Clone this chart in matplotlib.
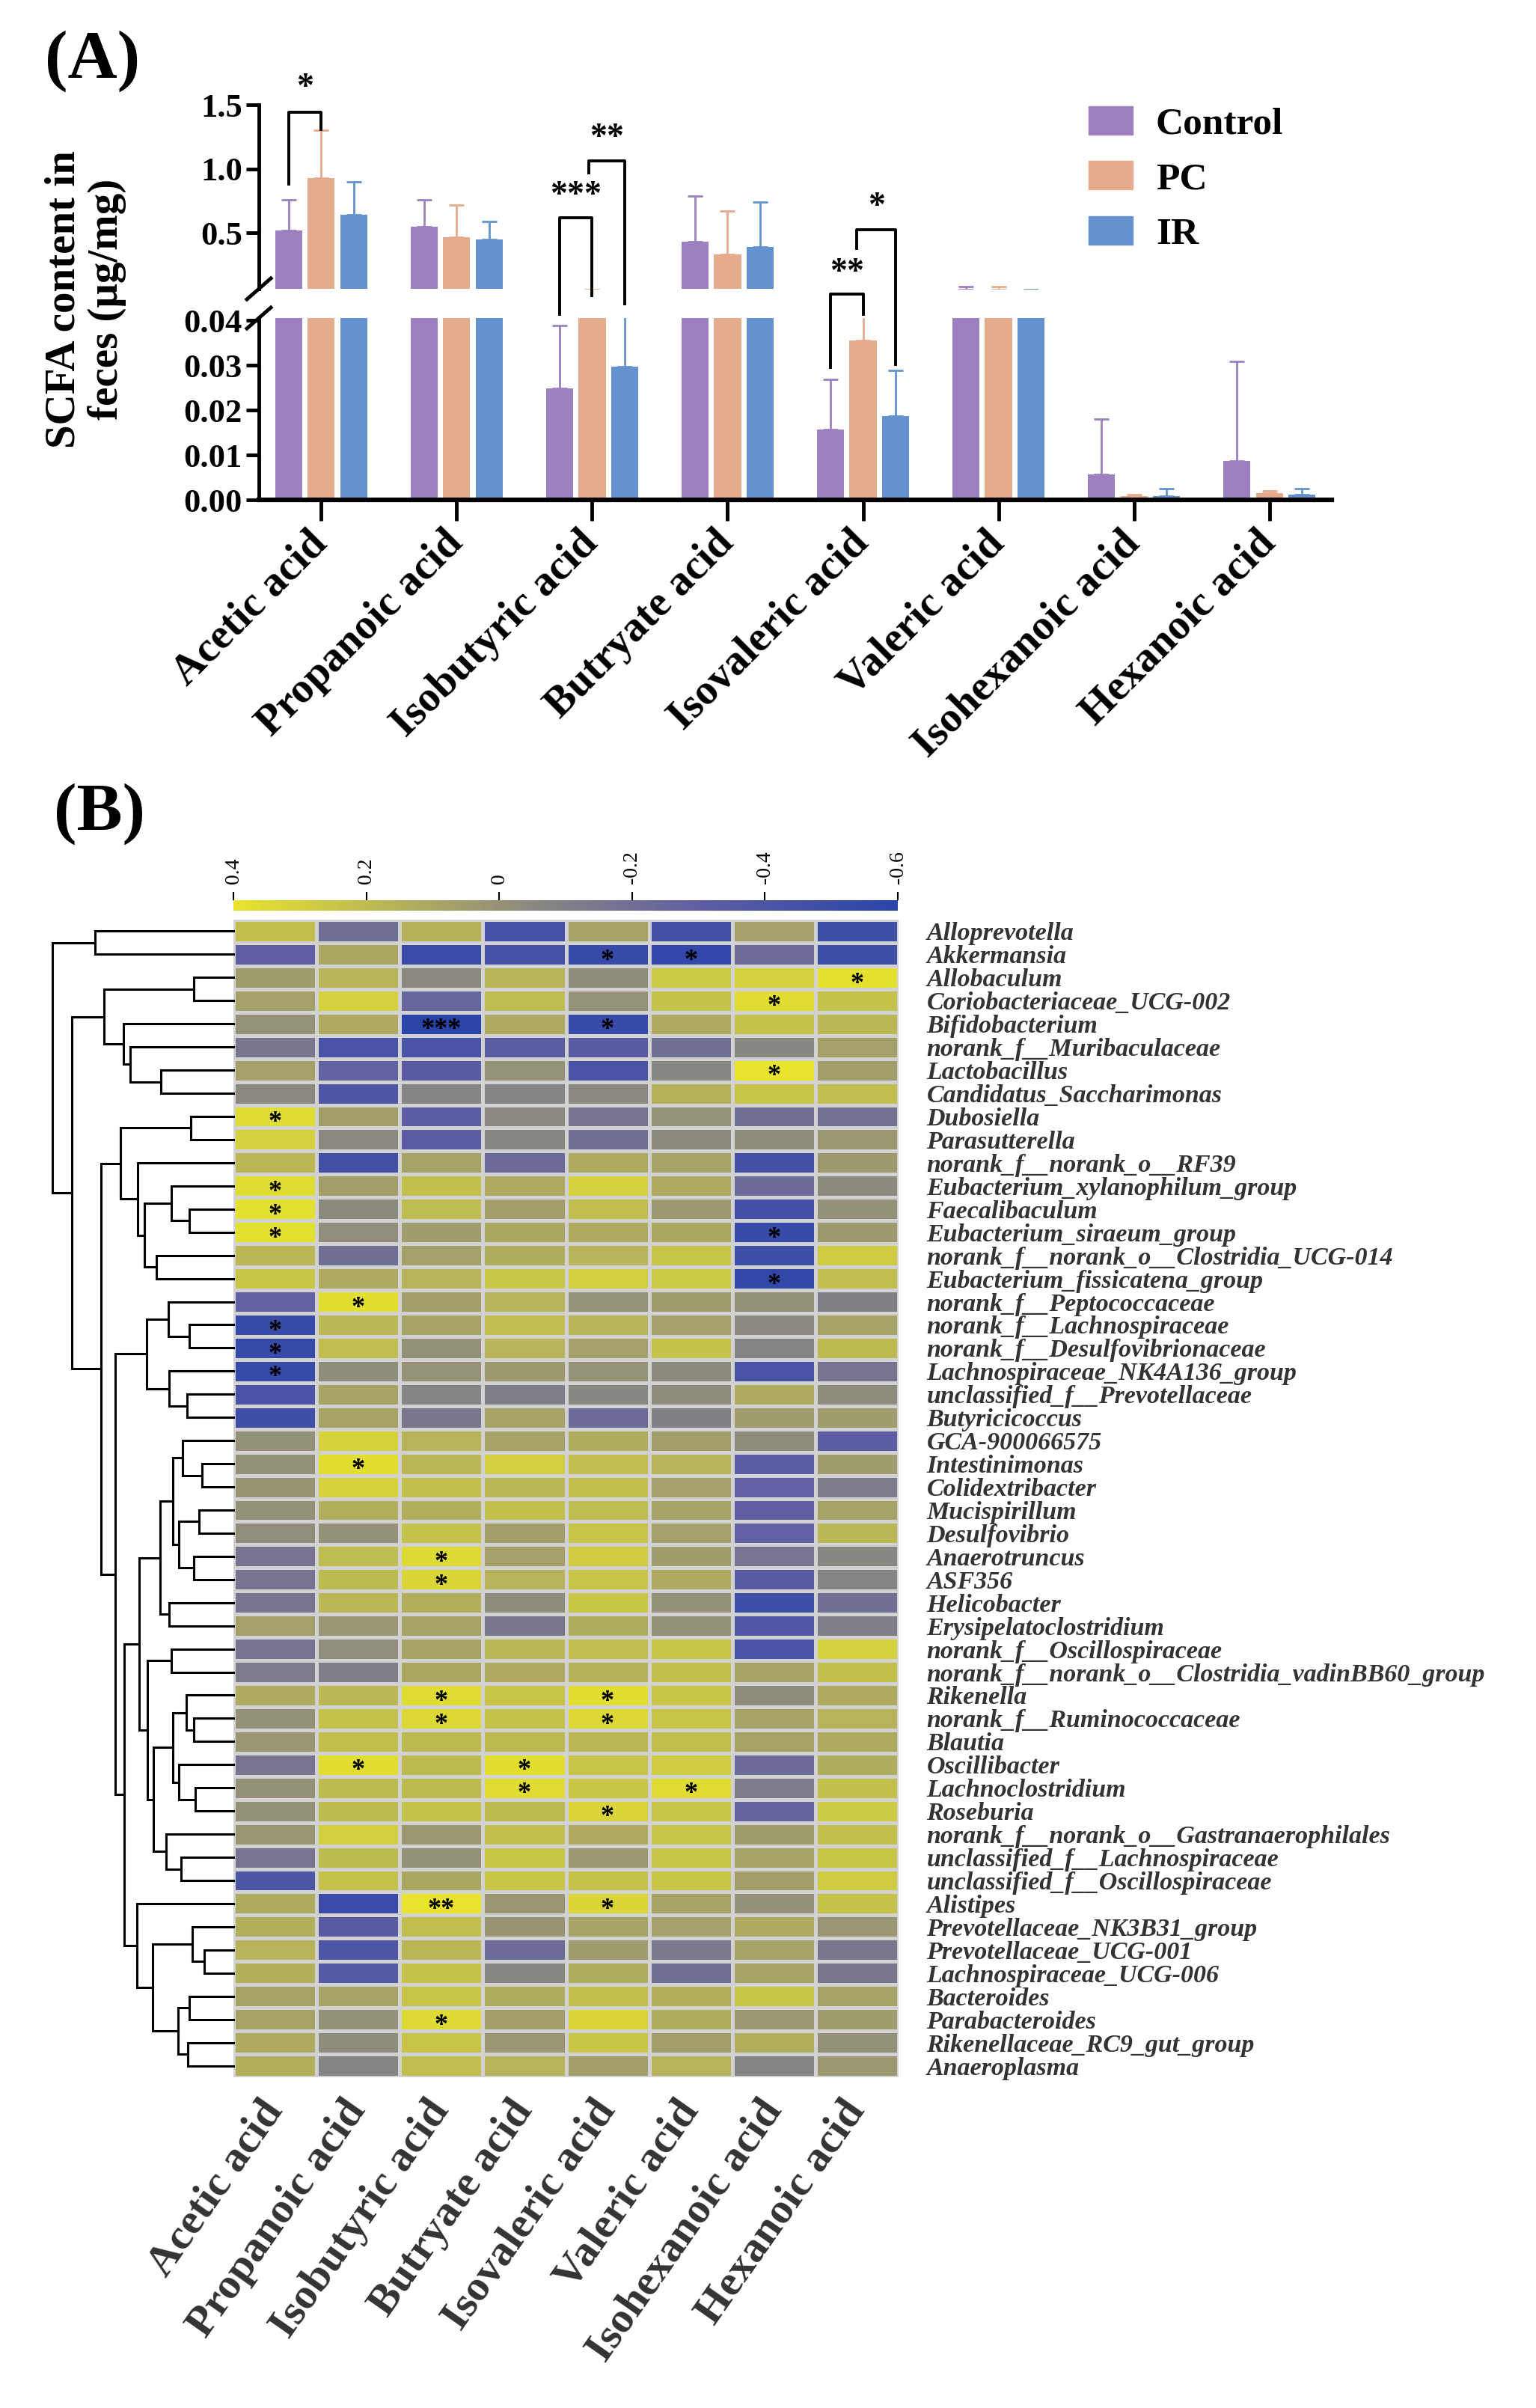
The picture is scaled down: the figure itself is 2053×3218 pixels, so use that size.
import numpy as np
import matplotlib
matplotlib.use('Agg')
import matplotlib as mpl
import matplotlib.pyplot as plt
from matplotlib.colors import LinearSegmentedColormap, Normalize
from matplotlib.patches import Patch
from matplotlib.lines import Line2D

plt.rcParams['font.family'] = ['Liberation Serif', 'DejaVu Serif']
plt.rcParams['font.weight'] = 'bold'

# ---------------- data: panel A ----------------
acids = ['Acetic acid', 'Propanoic acid', 'Isobutyric acid', 'Butryate acid',
         'Isovaleric acid', 'Valeric acid', 'Isohexanoic acid', 'Hexanoic acid']
groups = ['Control', 'PC', 'IR']
control = [0.52, 0.55, 0.0248, 0.435, 0.0156, 0.060, 0.0057, 0.0087]
control_err = [0.24, 0.21, 0.014, 0.355, 0.0113, 0.022, 0.0123, 0.0221]
pc = [0.93, 0.47, 0.050, 0.335, 0.0355, 0.060, 0.0008, 0.0015]
pc_err = [0.37, 0.25, 0.010, 0.335, 0.0070, 0.022, 0.0004, 0.0005]
ir = [0.64, 0.45, 0.0297, 0.39, 0.0187, 0.055, 0.0008, 0.0012]
ir_err = [0.26, 0.14, 0.012, 0.35, 0.0101, 0.005, 0.0017, 0.0013]

# ---------------- data: panel B ----------------
genera = ['Alloprevotella', 'Akkermansia', 'Allobaculum', 'Coriobacteriaceae_UCG-002',
          'Bifidobacterium', 'norank_f__Muribaculaceae', 'Lactobacillus',
          'Candidatus_Saccharimonas', 'Dubosiella', 'Parasutterella',
          'norank_f__norank_o__RF39', 'Eubacterium_xylanophilum_group', 'Faecalibaculum',
          'Eubacterium_siraeum_group', 'norank_f__norank_o__Clostridia_UCG-014',
          'Eubacterium_fissicatena_group', 'norank_f__Peptococcaceae',
          'norank_f__Lachnospiraceae', 'norank_f__Desulfovibrionaceae',
          'Lachnospiraceae_NK4A136_group', 'unclassified_f__Prevotellaceae',
          'Butyricicoccus', 'GCA-900066575', 'Intestinimonas', 'Colidextribacter',
          'Mucispirillum', 'Desulfovibrio', 'Anaerotruncus', 'ASF356', 'Helicobacter',
          'Erysipelatoclostridium', 'norank_f__Oscillospiraceae',
          'norank_f__norank_o__Clostridia_vadinBB60_group', 'Rikenella',
          'norank_f__Ruminococcaceae', 'Blautia', 'Oscillibacter', 'Lachnoclostridium',
          'Roseburia', 'norank_f__norank_o__Gastranaerophilales',
          'unclassified_f__Lachnospiraceae', 'unclassified_f__Oscillospiraceae',
          'Alistipes', 'Prevotellaceae_NK3B31_group', 'Prevotellaceae_UCG-001',
          'Lachnospiraceae_UCG-006', 'Bacteroides', 'Parabacteroides',
          'Rikenellaceae_RC9_gut_group', 'Anaeroplasma']

corr = [
    [0.22, -0.20, 0.15, -0.45, 0.08, -0.47, 0.07, -0.48],
    [-0.30, 0.10, -0.50, -0.45, -0.52, -0.56, -0.22, -0.48],
    [0.05, 0.17, -0.05, 0.17, -0.03, 0.27, 0.30, 0.38],
    [0.07, 0.30, -0.25, 0.20, 0.00, 0.23, 0.36, 0.23],
    [0.00, 0.12, -0.60, 0.12, -0.52, 0.12, 0.23, 0.18],
    [-0.15, -0.42, -0.42, -0.32, -0.34, -0.20, -0.06, 0.07],
    [0.07, -0.28, -0.33, 0.00, -0.42, -0.06, 0.40, 0.06],
    [-0.05, -0.40, -0.07, -0.07, -0.05, 0.15, 0.24, 0.21],
    [0.36, 0.06, -0.31, -0.05, -0.17, 0.00, -0.20, -0.18],
    [0.30, -0.05, -0.32, -0.06, -0.20, -0.04, -0.03, 0.03],
    [0.18, -0.47, 0.08, -0.23, 0.12, 0.09, -0.46, 0.04],
    [0.36, 0.06, 0.22, 0.12, 0.30, 0.12, -0.23, -0.04],
    [0.38, -0.04, 0.20, 0.06, 0.21, 0.03, -0.47, -0.01],
    [0.38, -0.02, 0.05, 0.10, 0.12, 0.10, -0.52, 0.04],
    [0.18, -0.20, 0.07, 0.13, 0.16, 0.24, -0.48, 0.28],
    [0.25, 0.12, 0.16, 0.26, 0.29, 0.27, -0.55, 0.21],
    [-0.28, 0.37, 0.06, 0.16, 0.00, 0.05, -0.01, -0.10],
    [-0.52, 0.18, 0.08, 0.21, 0.17, 0.07, -0.05, 0.08],
    [-0.53, 0.21, -0.01, 0.16, 0.07, 0.23, -0.08, 0.19],
    [-0.52, -0.03, 0.00, 0.04, 0.00, -0.04, -0.42, -0.17],
    [-0.42, 0.09, -0.07, -0.11, -0.06, -0.03, 0.12, -0.03],
    [-0.48, 0.09, -0.15, 0.09, -0.23, -0.10, 0.05, 0.05],
    [-0.01, 0.31, 0.16, 0.08, 0.13, 0.06, -0.03, -0.31],
    [-0.01, 0.37, 0.18, 0.29, 0.21, 0.16, -0.31, 0.05],
    [0.01, 0.31, 0.22, 0.18, 0.22, 0.07, -0.29, -0.12],
    [-0.01, 0.14, 0.14, 0.22, 0.20, 0.09, -0.30, 0.08],
    [-0.02, -0.01, 0.23, 0.06, 0.24, 0.07, -0.29, 0.18],
    [-0.17, 0.20, 0.35, 0.07, 0.28, 0.05, -0.16, -0.06],
    [-0.17, 0.19, 0.33, 0.16, 0.24, 0.12, -0.33, -0.07],
    [-0.17, 0.18, 0.14, -0.03, 0.25, -0.01, -0.48, -0.20],
    [0.07, 0.02, 0.08, -0.15, 0.13, -0.01, -0.38, -0.11],
    [-0.17, -0.02, 0.08, 0.18, 0.21, 0.24, -0.43, 0.30],
    [-0.13, -0.11, 0.10, 0.12, 0.15, 0.22, 0.08, 0.22],
    [0.12, 0.18, 0.36, 0.24, 0.37, 0.25, -0.03, 0.12],
    [-0.01, 0.23, 0.34, 0.23, 0.34, 0.24, 0.08, 0.16],
    [0.02, 0.22, 0.19, 0.19, 0.18, 0.22, 0.08, 0.12],
    [-0.16, 0.37, 0.19, 0.37, 0.24, 0.28, -0.23, 0.13],
    [-0.01, 0.19, 0.19, 0.36, 0.25, 0.36, -0.12, 0.22],
    [-0.01, 0.19, 0.23, 0.19, 0.32, 0.24, -0.27, 0.27],
    [0.02, 0.29, 0.03, 0.22, 0.12, 0.24, 0.05, 0.22],
    [-0.16, 0.19, -0.01, 0.25, 0.03, 0.24, 0.08, 0.25],
    [-0.40, 0.23, 0.10, 0.25, 0.23, 0.25, 0.06, 0.28],
    [0.12, -0.50, 0.40, 0.02, 0.33, 0.09, -0.01, 0.23],
    [0.14, -0.33, 0.21, 0.01, 0.08, 0.07, 0.12, 0.02],
    [0.16, -0.40, 0.18, -0.22, 0.05, -0.14, 0.08, -0.15],
    [0.14, -0.35, 0.23, -0.06, 0.13, -0.20, 0.08, -0.15],
    [0.09, 0.08, 0.24, 0.13, 0.22, 0.14, 0.25, 0.08],
    [0.08, -0.01, 0.35, 0.06, 0.32, 0.13, 0.03, 0.05],
    [0.12, -0.03, 0.24, 0.02, 0.25, 0.06, 0.14, -0.01],
    [0.14, -0.07, 0.21, 0.16, 0.06, 0.16, -0.07, 0.03],
]

# significance marks (row, column, label)
sig_rows = [1, 1, 2, 3, 4, 4, 6, 8, 11, 12, 13, 13, 15, 16, 17, 18, 19, 23, 27, 28,
            33, 33, 34, 34, 36, 36, 37, 37, 38, 42, 42, 47]
sig_cols = [4, 5, 7, 6, 2, 4, 6, 0, 0, 0, 0, 6, 6, 1, 0, 0, 0, 1, 2, 2,
            2, 4, 2, 4, 1, 3, 3, 5, 4, 2, 4, 2]
sig_marks = ['*', '*', '*', '*', '***', '*', '*', '*', '*', '*', '*', '*', '*', '*', '*', '*',
             '*', '*', '*', '*', '*', '*', '*', '*', '*', '*', '*', '*', '*', '**', '*', '*']

# row dendrogram: (left, right, height); leaves 0..49, merge k -> node 50+k
linkage = [
    (6, 7, 2.87), (5, 50, 4.07), (4, 51, 4.35), (2, 3, 1.57), (53, 52, 5.10),
    (0, 1, 5.47), (8, 9, 1.68), (12, 13, 1.75), (11, 57, 2.45), (14, 15, 3.05),
    (58, 59, 3.50), (10, 60, 3.77), (56, 61, 4.47), (17, 18, 1.75), (16, 63, 2.57),
    (20, 21, 1.83), (19, 65, 2.55), (64, 66, 3.43), (23, 24, 1.25), (22, 68, 2.00),
    (25, 26, 1.35), (27, 28, 1.55), (70, 71, 2.15), (69, 72, 2.40), (29, 30, 2.55),
    (73, 74, 2.90), (31, 32, 2.45), (34, 35, 1.55), (33, 77, 1.85), (37, 38, 1.50),
    (36, 79, 2.15), (78, 80, 2.40), (40, 41, 2.07), (39, 82, 2.65), (81, 83, 3.15),
    (76, 84, 3.40), (75, 85, 3.72), (44, 45, 1.15), (43, 87, 1.63), (46, 47, 1.75),
    (48, 49, 1.80), (89, 90, 2.17), (88, 91, 3.20), (42, 92, 3.80), (86, 93, 4.30),
    (67, 94, 4.67), (62, 95, 5.22), (54, 96, 6.37), (55, 97, 7.13),
]

# ---------------- figure ----------------
W, H = 2053, 3218
fig = plt.figure(figsize=(W / 100, H / 100), dpi=100)


def box(x0, y0, x1, y1):
    # pixel box (top-left origin) -> figure rect
    return [x0 / W, 1 - y1 / H, (x1 - x0) / W, (y1 - y0) / H]


colors = ['#9D80C0', '#E6AA8C', '#6392CF']
series = [control, pc, ir]
errs = [control_err, pc_err, ir_err]
offsets = [-0.24, 0.0, 0.24]
x = np.arange(len(acids))

ax_top = fig.add_axes(box(346, 140, 1780, 386))
ax_bot = fig.add_axes(box(346, 425, 1780, 668))

for ax in (ax_top, ax_bot):
    for vals, err, c, off, g in zip(series, errs, colors, offsets, groups):
        ax.bar(x + off, vals, width=0.2, color=c, label=g, zorder=2)
        ax.errorbar(x + off, vals, yerr=[np.zeros(len(vals)), err], fmt='none',
                    ecolor=c, elinewidth=2, capsize=7, capthick=2, zorder=1)
    ax.set_xlim(-0.46, 7.46)
    for s in ('top', 'right'):
        ax.spines[s].set_visible(False)
    ax.spines['left'].set_linewidth(3.5)
    ax.tick_params(axis='y', width=3.5, length=12, labelsize=32, pad=4)

ax_top.set_ylim(0.065, 1.5)
ax_top.set_yticks([0.5, 1.0, 1.5])
ax_top.set_yticklabels(['0.5', '1.0', '1.5'])
ax_top.spines['bottom'].set_visible(False)
ax_top.set_xticks([])

ax_bot.set_ylim(0, 0.0405)
ax_bot.set_yticks([0.0, 0.01, 0.02, 0.03, 0.04])
ax_bot.set_yticklabels(['0.00', '0.01', '0.02', '0.03', '0.04'])
ax_bot.spines['bottom'].set_linewidth(4.5)
ax_bot.set_xticks(x)
ax_bot.set_xticklabels(acids, rotation=45, ha='right', va='center',
                       rotation_mode='anchor', fontsize=41)
ax_bot.tick_params(axis='x', width=3.5, length=20, pad=16)

fig.text(0.029, 1 - 82 / H, '(A)', fontsize=66, ha='left', va='center')
fig.text(0.035, 1 - 1088 / H, '(B)', fontsize=66, ha='left', va='center')
fig.text(114 / W, 1 - 400 / H, 'SCFA content in\nfeces (\u03bcg/mg)', rotation=90,
         fontsize=41, ha='center', va='center', linespacing=1.12)

fig.legend(handles=[Patch(color=c) for c in colors], labels=groups,
           loc='upper left', bbox_to_anchor=(1455 / W, 1 - 142 / H), frameon=False,
           fontsize=37, handlelength=1.15, handleheight=0.75, handletextpad=0.6,
           labelspacing=0.5, borderpad=0, borderaxespad=0)

# axis break marks
to_fig = fig.transFigure.inverted()


def fpt(ax, xv, yv):
    return to_fig.transform(ax.transData.transform((xv, yv)))


for ax, yv in ((ax_top, 0.065), (ax_bot, 0.0405)):
    cx, cy = fpt(ax, -0.46, yv)
    fig.add_artist(Line2D([cx - 16 / W, cx + 16 / W], [cy - 14 / H, cy + 14 / H],
                          color='black', lw=3.5))


def bracket(pts, label, lx, ly, lax):
    xs, ys = [], []
    for xv, yv, which in pts:
        fx, fy = fpt(ax_top if which == 't' else ax_bot, xv, yv)
        xs.append(fx)
        ys.append(fy)
    fig.add_artist(Line2D(xs, ys, color='black', lw=2.8))
    tx, ty = fpt(lax, lx, ly)
    fig.text(tx, ty, label, ha='center', va='center', fontsize=33)


bracket([(-0.24, 0.88, 't'), (-0.24, 1.44, 't'), (0.0, 1.44, 't'), (0.0, 1.31, 't')],
        '*', -0.12, 1.63, ax_top)
bracket([(1.76, 0.0414, 'b'), (1.76, 0.62, 't'), (2.0, 0.62, 't'), (2.0, 0.0455, 'b')],
        '***', 1.88, 0.79, ax_top)
bracket([(1.975, 0.97, 't'), (1.975, 1.06, 't'), (2.24, 1.06, 't'), (2.24, 0.0437, 'b')],
        '**', 2.11, 1.24, ax_top)
bracket([(3.76, 0.0295, 'b'), (3.76, 0.0458, 'b'), (4.0, 0.0458, 'b'), (4.0, 0.0413, 'b')],
        '**', 3.88, 0.19, ax_top)
bracket([(3.955, 0.38, 't'), (3.955, 0.527, 't'), (4.24, 0.527, 't'), (4.24, 0.0302, 'b')],
        '*', 4.1, 0.70, ax_top)

# ---------------- panel B: heatmap ----------------
cmap = LinearSegmentedColormap.from_list(
    'ybb', [(0.0, '#2A44AA'), (0.3, '#5F5EA3'), (0.55, '#8A8880'), (1.0, '#E8E42B')])
norm = Normalize(vmin=-0.6, vmax=0.4)
data = np.array(corr)
nrow, ncol = data.shape

ax_hm = fig.add_axes(box(312, 1229, 1201, 2776))
ax_hm.pcolormesh(np.arange(ncol + 1), np.arange(nrow + 1), data, cmap=cmap, norm=norm,
                 edgecolors='#D2D2D2', linewidth=2.2)
ax_hm.set_xlim(0, ncol)
ax_hm.set_ylim(nrow, 0)
for s in ax_hm.spines.values():
    s.set_visible(False)
ax_hm.yaxis.tick_right()
ax_hm.set_yticks(np.arange(nrow) + 0.5)
ax_hm.set_yticklabels(genera, fontsize=24.5, fontstyle='italic', color='#333333')
ax_hm.set_xticks(np.arange(ncol) + 0.5)
ax_hm.set_xticklabels(acids, rotation=55, ha='right', va='center', rotation_mode='anchor',
                      fontsize=42, color='#333333')
ax_hm.tick_params(axis='y', length=0, pad=27)
ax_hm.tick_params(axis='x', length=0, pad=26)

for r, c, m in zip(sig_rows, sig_cols, sig_marks):
    ax_hm.text(c + 0.5, r + 0.78, m, ha='center', va='center', fontsize=26, color='black')

# colorbar
cax = fig.add_axes(box(312, 1203, 1200, 1217))
cb = mpl.colorbar.ColorbarBase(cax, cmap=cmap, norm=norm, orientation='horizontal')
cb.outline.set_visible(False)
cax.invert_xaxis()
cax.xaxis.set_ticks_position('top')
cb.set_ticks([0.4, 0.2, 0.0, -0.2, -0.4, -0.6])
cax.set_xticklabels(['0.4', '0.2', '0', '-0.2', '-0.4', '-0.6'], rotation=90,
                    fontsize=20, fontweight='normal')
cax.tick_params(axis='x', length=8, width=1.5, pad=8, top=True, bottom=False)

# dendrogram
ax_dg = fig.add_axes(box(68, 1229, 312, 2776))
ax_dg.set_ylim(nrow, 0)
ax_dg.set_xlim(7.2, 0)
ax_dg.axis('off')
pos = {i: (0.0, i + 0.5) for i in range(nrow)}
for k, (a, b, h) in enumerate(linkage):
    ha_, ya = pos[a]
    hb, yb = pos[b]
    ax_dg.plot([ha_, h, h, hb], [ya, ya, yb, yb], color='black', lw=2.2,
               solid_joinstyle='miter', clip_on=False)
    pos[nrow + k] = (h, (ya + yb) / 2)

fig.savefig('out.png', dpi=100, facecolor='white')
